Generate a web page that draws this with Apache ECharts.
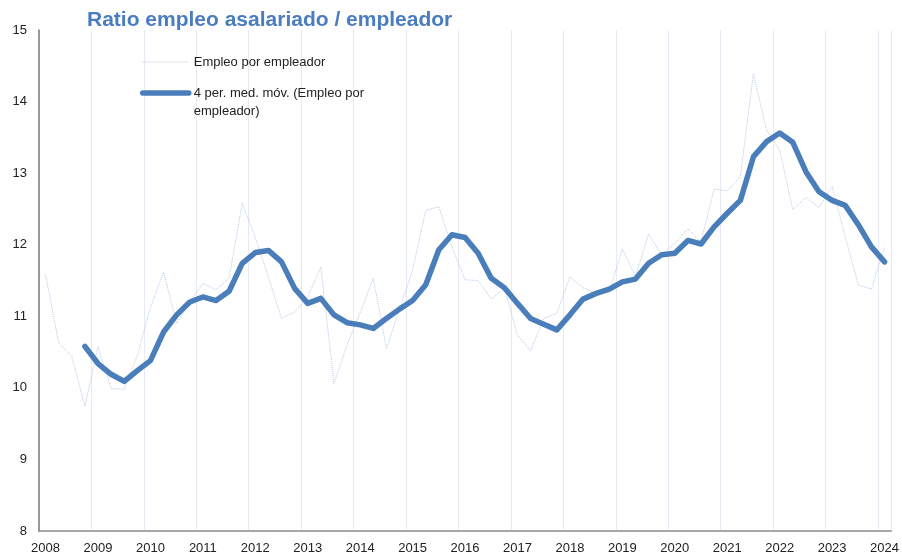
<!DOCTYPE html>
<html>
<head>
<meta charset="utf-8">
<script src="https://cdn.jsdelivr.net/npm/echarts@6/dist/echarts.min.js"></script>
<style>
    html,body{margin:0;padding:0;background:#fff}
    #chart{width:902px;height:557px}
</style>
</head>
<body>
<div id="chart"></div>
<script>
// años con datos trimestrales (2008T1 .. 2024T1)
var years = ['2008','2009','2010','2011','2012','2013','2014','2015','2016','2017','2018','2019','2020','2021','2022','2023','2024'];
var quarters = [];
for (var y = 0; y < years.length; y++) {
    for (var q = 1; q <= 4; q++) {
        if (years[y] == '2024' && q > 1) break;
        quarters.push(years[y] + 'T' + q);
    }
}

// Empleo por empleador (serie trimestral)
var empleo = [
    11.58,10.63,10.44,9.74, 10.58,9.99,9.98,10.45,
    11.12,11.62,10.90,11.20, 11.46,11.37,11.53,12.58,
    12.10,11.55,10.97,11.06, 11.27,11.69,10.06,10.60,
    11.05,11.53,10.55,11.09, 11.65,12.48,12.53,11.97,
    11.51,11.50,11.24,11.39, 10.74,10.52,10.97,11.04,
    11.55,11.40,11.32,11.34, 11.94,11.56,12.15,11.86,
    12.02,12.22,12.04,12.78, 12.75,12.95,14.39,13.60,
    13.32,12.49,12.66,12.52, 12.82,12.11,11.44,11.38,
    11.97
];

// 4 per. med. móv.
var mediaMovil = [
    null,null,null,10.58, 10.34,10.19,10.09,10.24,
    10.38,10.78,11.02,11.20, 11.27,11.22,11.35,11.74,
    11.89,11.92,11.76,11.39, 11.18,11.25,11.02,10.91,
    10.88,10.83,10.97,11.10, 11.22,11.44,11.93,12.14,
    12.10,11.88,11.53,11.40, 11.18,10.97,10.89,10.81,
    11.02,11.24,11.32,11.38, 11.48,11.52,11.74,11.86,
    11.88,12.06,12.01,12.25, 12.44,12.62,13.23,13.44,
    13.56,13.43,13.02,12.74, 12.62,12.55,12.28,11.97,
    11.76
];

var font = "'Liberation Sans', Arial, sans-serif";
var myChart = echarts.init(document.getElementById('chart'));
myChart.setOption({
    animation: false,
    title: {
        text: 'Ratio empleo asalariado / empleador',
        left: 82,
        top: 5,
        textStyle: {color: '#4a7dbf', fontSize: 21, fontWeight: 'bold', fontFamily: font}
    },
    legend: {
        orient: 'vertical',
        left: 135,
        top: 48,
        itemWidth: 46,
        itemHeight: 14,
        itemGap: -5,
        itemStyle: {opacity: 0},
        lineStyle: {width: 'inherit'},
        textStyle: {color: '#222', fontSize: 13, fontFamily: font, lineHeight: 18},
        data: [
            {name: 'Empleo por empleador'},
            {name: '4 per. med. móv. (Empleo por empleador)'}
        ],
        formatter: function (name) {
            // línea vacía arriba para que el icono quede a la altura de la primera línea
            if (name.indexOf('4 per.') == 0) return ' \n4 per. med. móv. (Empleo por\nempleador)';
            return name;
        }
    },
    grid: {left: 39, right: 10, top: 30, bottom: 26, containLabel: false},
    xAxis: {
        type: 'category',
        data: quarters,
        boundaryGap: true,
        axisLine: {lineStyle: {color: '#8c8c8c', width: 1.5}},
        axisTick: {show: false},
        axisLabel: {
            interval: 3,
            margin: 11,
            color: '#222',
            fontSize: 13,
            fontFamily: font,
            formatter: function (v) { return v.slice(0, 4); }
        },
        splitLine: {show: true, interval: 3, lineStyle: {color: '#e6eaf2', width: 1}}
    },
    yAxis: {
        type: 'value',
        min: 8,
        max: 15,
        interval: 1,
        axisLine: {show: true, lineStyle: {color: '#7a7a7a', width: 1.5}},
        axisTick: {show: false},
        axisLabel: {margin: 12, color: '#222', fontSize: 13, fontFamily: font},
        splitLine: {show: false}
    },
    series: [
        {
            name: 'Empleo por empleador',
            type: 'line',
            data: empleo,
            symbol: 'none',
            lineStyle: {color: '#b4c7e7', width: 1, type: 'dotted'},
            itemStyle: {color: '#b4c7e7'}
        },
        {
            name: '4 per. med. móv. (Empleo por empleador)',
            type: 'line',
            data: mediaMovil,
            symbol: 'none',
            connectNulls: false,
            lineStyle: {color: '#4a7ebb', width: 5.5, cap: 'round', join: 'round'},
            itemStyle: {color: '#4a7ebb'}
        }
    ]
});
</script>
</body>
</html>
